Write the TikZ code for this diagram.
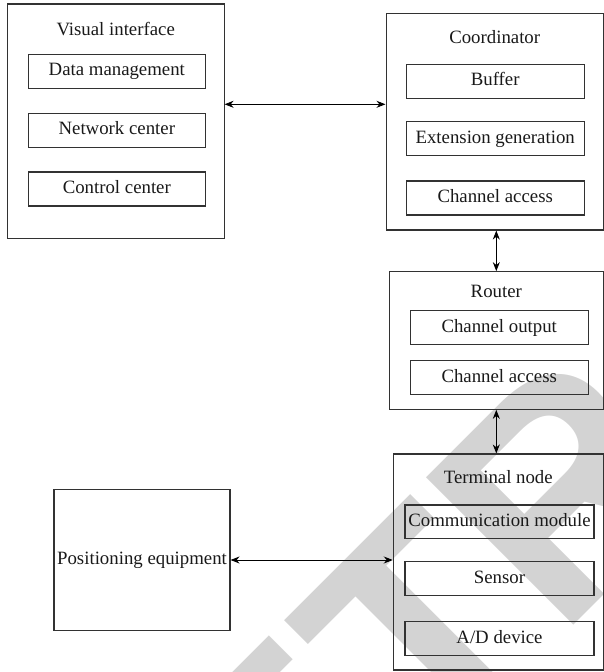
\documentclass[tikz,border=0pt]{standalone}
\usepackage{fontspec}
\setmainfont{Liberation Serif}
\newfontfamily\wmfont{Liberation Sans Bold}
\usetikzlibrary{arrows.meta}
\definecolor{wmgray}{RGB}{211,211,211}
\definecolor{edge}{RGB}{50,50,50}
\definecolor{ink}{RGB}{25,25,25}
\newcommand\lblfont{\fontsize{18.8}{22}\selectfont}

\begin{document}
\begin{tikzpicture}[x=1pt,y=1pt,
  frame/.style={draw=edge, line width=1.1pt, inner sep=0pt},
  part/.style={draw=edge, line width=1.1pt, inner sep=0pt, font=\lblfont,
    text=ink, text height=13.2pt, text depth=4.1pt},
  title/.style={inner sep=0pt, font=\lblfont, text=ink,
    text height=13.2pt, text depth=4.1pt},
  link/.style={{Stealth[length=9pt,width=7pt]}-{Stealth[length=9pt,width=7pt]},
    line width=0.9pt, draw=black}]

\useasboundingbox (0,0) rectangle (604,672);

% diagonal background stamp
\begin{scope}
  \clip (0,0) rectangle (604,672);
  \node[rotate=45, anchor=base west, inner sep=0pt, text=wmgray] (stamp)
    at (131.3,-396.0) {\wmfont\fontsize{303}{303}\selectfont RETRACTED};
\end{scope}

% visual interface
\node[frame, minimum width=216.7pt, minimum height=234.3pt] (vi) at (115.7,550.8) {};
\node[title] (vit) at (115.7,641.5) {Visual interface};
\node[part, minimum width=177.5pt, minimum height=34pt] (dm) at (116.8,600.7) {Data management};
\node[part, minimum width=177.5pt, minimum height=34pt] (nc) at (116.8,541.8) {Network center};
\node[part, minimum width=177.5pt, minimum height=34pt] (cc) at (116.8,483.0) {Control center};

% coordinator
\node[frame, minimum width=217.3pt, minimum height=216.7pt] (co) at (494.7,550.3) {};
\node[title] (cot) at (494.7,633.2) {Coordinator};
\node[part, minimum width=178.3pt, minimum height=34pt] (bf) at (495.2,590.7) {Buffer};
\node[part, minimum width=178.3pt, minimum height=33.7pt] (eg) at (495.2,533.2) {Extension generation};
\node[part, minimum width=178.3pt, minimum height=34pt] (ca) at (495.2,474.0) {Channel access};

% router
\node[frame, minimum width=214pt, minimum height=137.6pt] (rt) at (496.3,331.5) {};
\node[title] (rtt) at (496.3,378.8) {Router};
\node[part, minimum width=178.3pt, minimum height=34.3pt] (co1) at (499.2,344.2) {Channel output};
\node[part, minimum width=178.3pt, minimum height=34.3pt] (ca1) at (499.2,294.2) {Channel access};

% terminal node
\node[frame, minimum width=210pt, minimum height=216pt] (tn) at (498.3,110.0) {};
\node[title] (tnt) at (498.3,193.2) {Terminal node};
\node[part, minimum width=189pt, minimum height=33.3pt] (cm) at (499.5,150.3) {Communication module};
\node[part, minimum width=189pt, minimum height=34pt] (sn) at (499.5,93.3) {Sensor};
\node[part, minimum width=189pt, minimum height=34pt] (ad) at (499.5,33.3) {A/D device};

% positioning equipment
\node[part, minimum width=176pt, minimum height=141.4pt] (pe) at (142,112) {Positioning equipment};

% connectors
\draw[link] ([yshift=16.9pt]vi.east) -- ([yshift=16.9pt]vi.east -| co.west);
\draw[link] (rt.north |- co.south) -- (rt.north);
\draw[link] (rt.south) -- (rt.south |- tn.north);
\draw[link] (pe.east) -- (pe.east -| tn.west);
\end{tikzpicture}
\end{document}
